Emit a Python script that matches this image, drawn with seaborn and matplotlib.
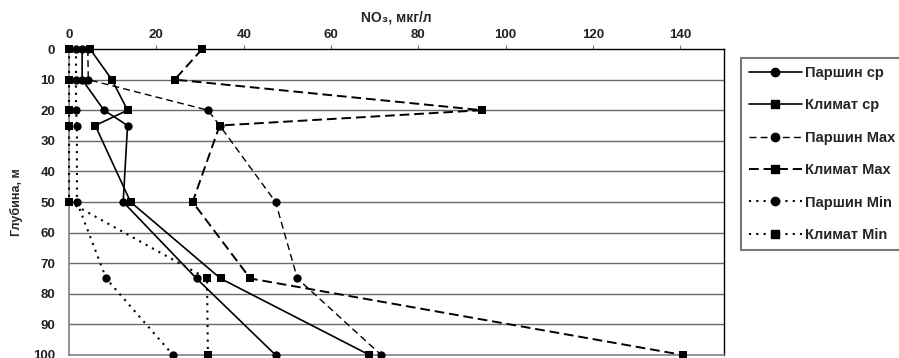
import matplotlib
matplotlib.use("Agg")
import matplotlib.pyplot as plt
import pandas as pd
import seaborn as sns
from matplotlib.lines import Line2D

# Nitrate concentration profiles, NO3 (µg/l) against depth (m)
depth = [0, 10, 20, 25, 50, 75, 100]
parshin_mean = [3.0, 3.0, 8.0, 13.4, 12.4, 29.2, 47.3]
klimat_mean = [4.8, 9.8, 13.4, 6.0, 14.1, 34.7, 68.8]
parshin_max = [4.3, 4.4, 31.8, 34.5, 47.3, 52.3, 71.5]
klimat_max = [30.5, 24.2, 94.6, 34.5, 28.3, 41.5, 140.6]
parshin_min = [1.6, 1.6, 1.6, 1.8, 1.8, 8.5, 23.8]
klimat_min = [0.0, 0.0, 0.0, 0.0, 0.0, 31.6, 31.8]

series_names = ["Паршин ср", "Климат ср", "Паршин Max",
                "Климат Max", "Паршин Min", "Климат Min"]
series_values = [parshin_mean, klimat_mean, parshin_max,
                 klimat_max, parshin_min, klimat_min]

x_ticks = [0, 20, 40, 60, 80, 100, 120, 140]
y_ticks = [0, 10, 20, 30, 40, 50, 60, 70, 80, 90, 100]

frames = [pd.DataFrame({"series": name, "depth": depth, "no3": vals})
          for name, vals in zip(series_names, series_values)]
df = pd.concat(frames, ignore_index=True)

styles = {
    "Паршин ср":  dict(linestyle="-", marker="o", linewidth=1.2, markersize=6.0),
    "Климат ср":  dict(linestyle="-", marker="s", linewidth=1.2, markersize=5.2),
    "Паршин Max": dict(linestyle=(0, (5, 3)), marker="o", linewidth=1.0, markersize=6.0),
    "Климат Max": dict(linestyle=(0, (5, 2.5)), marker="s", linewidth=1.4, markersize=5.2),
    "Паршин Min": dict(linestyle=(0, (1, 2.5)), marker="o", linewidth=1.5, markersize=6.0),
    "Климат Min": dict(linestyle=(0, (1, 2.5)), marker="s", linewidth=1.5, markersize=5.2),
}

sns.set_style("white")
sans = ["Liberation Sans", "DejaVu Sans"]
narrow = ["Liberation Sans Narrow", "DejaVu Sans Condensed", "Liberation Sans", "DejaVu Sans"]
plt.rcParams["font.family"] = sans

fig = plt.figure(figsize=(8.99, 3.58), dpi=100)
ax = fig.add_axes([0.0768, 0.0084, 0.7285, 0.8547])

for name in series_names:
    sub = df[df["series"] == name]
    sns.lineplot(data=sub, x="no3", y="depth", orient="y", sort=False,
                 estimator=None, color="black", ax=ax, legend=False,
                 clip_on=False, markeredgewidth=0, zorder=3,
                 **styles[name])

ax.set_xlim(0, 150)
ax.set_ylim(100, 0)
ax.xaxis.tick_top()
ax.xaxis.set_label_position("top")
ax.set_xticks(x_ticks)
ax.set_yticks(y_ticks)
ax.set_xticklabels([str(t) for t in x_ticks], fontsize=9.5,
                   fontweight="bold", color="#222222")
ax.set_yticklabels([str(t) for t in y_ticks], fontsize=9.5,
                   fontweight="bold", color="#222222")
ax.tick_params(axis="x", direction="out", length=3, width=0.8,
               color="#777777", pad=3, top=True, bottom=False)
ax.tick_params(axis="y", direction="out", length=0, pad=10)

ax.set_xlabel("NO₃, мкг/л", fontsize=10, fontweight="bold", labelpad=5)
ax.set_ylabel("Глубина, м", fontsize=9, fontweight="bold",
              family=narrow, labelpad=7)

# horizontal depth grid
for y in y_ticks[1:-1]:
    ax.axhline(y, color="#6a6a6a", linewidth=1.0, zorder=1)

for side in ["top", "right"]:
    ax.spines[side].set_color("black")
    ax.spines[side].set_linewidth(1.0)
for side in ["left", "bottom"]:
    ax.spines[side].set_color("#808080")
    ax.spines[side].set_linewidth(1.2)

handles = [Line2D([], [], color="black", **styles[name]) for name in series_names]
leg = fig.legend(handles, series_names, loc="upper left",
                 bbox_to_anchor=(0.8245, 0.838), frameon=True, fancybox=False,
                 prop=dict(family=sans, weight="bold", size=10.5),
                 labelspacing=1.26, handlelength=3.6, handletextpad=0.2,
                 borderpad=0.55, borderaxespad=0)
leg.get_frame().set_edgecolor("#555555")
leg.get_frame().set_linewidth(1.5)

fig.savefig("out.png", dpi=100)
